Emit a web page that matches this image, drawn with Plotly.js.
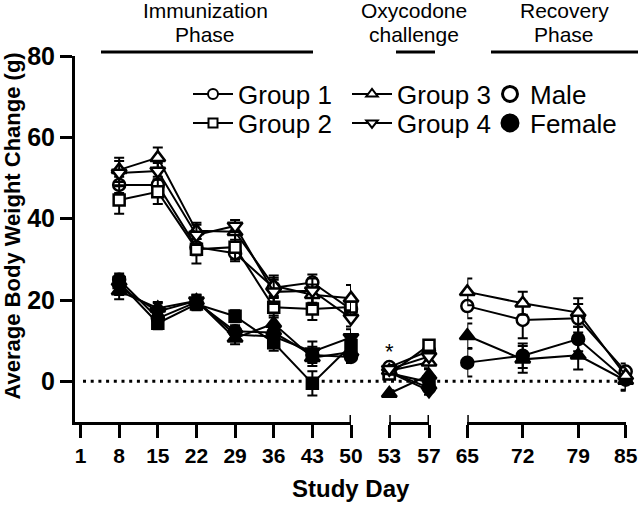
<!DOCTYPE html>
<html>
<head>
<meta charset="utf-8">
<script src="https://cdn.plot.ly/plotly-3.0.1.min.js"></script>
<style>html,body{margin:0;padding:0;background:#fff;}#chart{width:640px;height:505px;}</style>
</head>
<body>
<div id="chart"></div>
<script>
// ---------------- DATA ----------------
const daysImm = [8, 15, 22, 29, 36, 43, 50];
const daysOxy = [53, 57];
const daysRec = [65, 72, 79, 85];
const ticksImm = [1, 8, 15, 22, 29, 36, 43, 50];
const ticksOxy = [53, 57];
const ticksRec = [65, 72, 79, 85];
const yTicks = [0, 20, 40, 60, 80];

// Immunization phase (mean, SEM)
const g1M_imm = [48.3, 48.3, 33.0, 31.5, 23.0, 24.3, 17.7];
const g1M_imm_err = [2.0, 2.0, 2.0, 2.0, 2.5, 2.0, 1.5];
const g2M_imm = [44.6, 46.6, 32.5, 33.0, 18.2, 17.8, 18.3];
const g2M_imm_err = [3.4, 3.0, 3.5, 3.0, 2.5, 2.7, 2.0];
const g3M_imm = [52.0, 55.0, 37.0, 36.8, 23.5, 21.3, 20.4];
const g3M_imm_err = [3.0, 2.5, 2.0, 2.0, 2.5, 2.5, 3.3];
const g4M_imm = [51.2, 51.7, 36.0, 38.2, 22.0, 22.3, 15.5];
const g4M_imm_err = [3.0, 2.0, 2.5, 1.5, 3.0, 3.0, 2.0];
const g1F_imm = [25.0, 15.5, 19.5, 12.3, 12.0, 6.5, 6.0];
const g1F_imm_err = [1.5, 1.5, 1.5, 1.5, 2.0, 2.0, 1.5];
const g2F_imm = [24.3, 14.3, 19.0, 16.0, 9.5, -0.5, 8.8];
const g2F_imm_err = [1.5, 1.5, 1.5, 1.5, 2.0, 3.0, 2.0];
const g3F_imm = [22.2, 18.0, 19.8, 10.6, 14.2, 5.8, 7.2];
const g3F_imm_err = [2.0, 1.5, 1.5, 1.5, 2.0, 2.0, 2.0];
const g4F_imm = [23.2, 17.2, 19.8, 11.5, 11.0, 7.3, 10.8];
const g4F_imm_err = [2.0, 2.0, 1.5, 1.5, 2.0, 2.5, 2.0];

// Oxycodone challenge
const g1M_oxy = [3.5, 7.5];   const g1M_oxy_err = [1.0, 1.5];
const g2M_oxy = [1.8, 8.9];   const g2M_oxy_err = [1.0, 1.0];
const g3M_oxy = [2.6, 4.7];   const g3M_oxy_err = [1.0, 1.5];
const g4M_oxy = [3.0, 6.1];   const g4M_oxy_err = [1.0, 1.0];
const g1F_oxy = [2.4, -1.6];  const g1F_oxy_err = [1.0, 1.0];
const g2F_oxy = [2.0, -0.2];  const g2F_oxy_err = [1.0, 1.5];
const g3F_oxy = [-3.0, 1.5];  const g3F_oxy_err = [0.8, 1.5];
const g4F_oxy = [2.2, -2.3];  const g4F_oxy_err = [1.0, 1.0];

// Recovery phase (Groups 1 and 3 only)
const g1M_rec = [18.5, 15.1, 15.5, 2.4];  const g1M_rec_err = [3.0, 4.5, 3.5, 2.0];
const g3M_rec = [22.0, 19.2, 16.9, 1.4];  const g3M_rec_err = [3.3, 2.8, 3.5, 2.0];
const g1F_rec = [4.6, 6.3, 10.4, 0.4];    const g1F_rec_err = [3.4, 3.0, 3.0, 2.5];
const g3F_rec = [11.2, 5.4, 6.4, 0.2];    const g3F_rec_err = [3.0, 3.3, 3.5, 2.5];

const groupNames = ['Group 1', 'Group 2', 'Group 3', 'Group 4'];
const sexNames = ['Male', 'Female'];
const asteriskDay = 53;
const asteriskValue = 7.3;

// ---------------- LAYOUT HELPERS ----------------
const FONT = 'Liberation Sans, Arial, Helvetica, sans-serif';
const L = 75, W = 565, B = 422, H = 366;
function px(X) { return (X - L) / W; }
function py(Y) { return (B - Y) / H; }

const symbols = ['circle', 'square', 'triangle-up', 'triangle-down'];
const sizes = [12, 11, 13, 13];

function series(xs, ys, errs, xa, gi, filled) {
  return {
    type: 'scatter', mode: 'lines+markers',
    x: xs, y: ys, xaxis: xa, yaxis: 'y',
    line: { color: 'black', width: 2 },
    marker: { symbol: symbols[gi], size: sizes[gi], color: filled ? 'black' : 'white',
              line: { color: 'black', width: 2.5 } },
    error_y: { type: 'data', array: errs, visible: true, color: 'black', thickness: 2, width: 5 },
    cliponaxis: false, showlegend: false, hoverinfo: 'skip'
  };
}

const traces = [];
traces.push(series(daysImm, g1F_imm, g1F_imm_err, 'x', 0, true));
traces.push(series(daysImm, g2F_imm, g2F_imm_err, 'x', 1, true));
traces.push(series(daysImm, g3F_imm, g3F_imm_err, 'x', 2, true));
traces.push(series(daysImm, g4F_imm, g4F_imm_err, 'x', 3, true));
traces.push(series(daysImm, g1M_imm, g1M_imm_err, 'x', 0, false));
traces.push(series(daysImm, g2M_imm, g2M_imm_err, 'x', 1, false));
traces.push(series(daysImm, g3M_imm, g3M_imm_err, 'x', 2, false));
traces.push(series(daysImm, g4M_imm, g4M_imm_err, 'x', 3, false));

traces.push(series(daysOxy, g1F_oxy, g1F_oxy_err, 'x2', 0, true));
traces.push(series(daysOxy, g2F_oxy, g2F_oxy_err, 'x2', 1, true));
traces.push(series(daysOxy, g3F_oxy, g3F_oxy_err, 'x2', 2, true));
traces.push(series(daysOxy, g4F_oxy, g4F_oxy_err, 'x2', 3, true));
traces.push(series(daysOxy, g1M_oxy, g1M_oxy_err, 'x2', 0, false));
traces.push(series(daysOxy, g2M_oxy, g2M_oxy_err, 'x2', 1, false));
traces.push(series(daysOxy, g3M_oxy, g3M_oxy_err, 'x2', 2, false));
traces.push(series(daysOxy, g4M_oxy, g4M_oxy_err, 'x2', 3, false));

traces.push(series(daysRec, g1F_rec, g1F_rec_err, 'x3', 0, true));
traces.push(series(daysRec, g3F_rec, g3F_rec_err, 'x3', 2, true));
traces.push(series(daysRec, g1M_rec, g1M_rec_err, 'x3', 0, false));
traces.push(series(daysRec, g3M_rec, g3M_rec_err, 'x3', 2, false));

// legend entries (one legend box per entry, for exact placement)
function legendGroup(gi, leg) {
  return { type: 'scatter', mode: 'lines+markers', x: [null], y: [null], name: groupNames[gi],
    legend: leg, line: { color: 'black', width: 2 },
    marker: { symbol: symbols[gi], size: gi === 1 ? 9 : 10, color: 'white', line: { color: 'black', width: 2 } },
    hoverinfo: 'skip' };
}
function legendSex(si, leg) {
  return { type: 'scatter', mode: 'markers', x: [null], y: [null], name: sexNames[si], legend: leg,
    marker: { symbol: 'circle', size: si === 0 ? 15 : 17, color: si === 0 ? 'white' : 'black',
              line: { color: 'black', width: 3 } }, hoverinfo: 'skip' };
}
traces.push(legendGroup(0, 'legend'));
traces.push(legendGroup(1, 'legend2'));
traces.push(legendGroup(2, 'legend3'));
traces.push(legendGroup(3, 'legend4'));
traces.push(legendSex(0, 'legend5'));
traces.push(legendSex(1, 'legend6'));

const xCommon = {
  showline: true, linewidth: 3, linecolor: 'black', ticks: 'outside', ticklen: 13, tickwidth: 3,
  tickcolor: 'black', showgrid: false, zeroline: false, anchor: 'y', tickmode: 'array',
  tickfont: { family: FONT, size: 21, color: 'black', weight: 'bold' }, tickangle: 0, fixedrange: true
};

function legendAt(X, Y, iw) {
  return { x: px(X), y: py(Y), xanchor: 'left', yanchor: 'middle', bgcolor: 'rgba(0,0,0,0)',
    borderwidth: 0, itemwidth: iw, font: { family: FONT, size: 26, color: 'black' }, orientation: 'v' };
}

const annFont = { family: FONT, size: 21, color: 'black' };
function phaseText(text, X, Y) {
  return { text: text, xref: 'paper', yref: 'paper', x: px(X), y: py(Y), xanchor: 'center',
           yanchor: 'middle', showarrow: false, font: annFont };
}
function hline(X0, X1, Y) {
  return { type: 'line', xref: 'paper', yref: 'paper', x0: px(X0), x1: px(X1), y0: py(Y), y1: py(Y),
           line: { color: 'black', width: 3 } };
}
function cap(xref, xv) {
  return { type: 'line', xref: xref, yref: 'paper', x0: xv, x1: xv, y0: 0, y1: py(415),
           line: { color: 'black', width: 3 } };
}

const layout = {
  width: 640, height: 505,
  margin: { l: L, r: 640 - L - W, t: 56, b: 505 - 56 - H },
  paper_bgcolor: 'white', plot_bgcolor: 'white',
  font: { family: FONT, color: 'black' },
  xaxis: Object.assign({}, xCommon, { domain: [0, px(351)], range: [0, 50], tickvals: ticksImm }),
  xaxis2: Object.assign({}, xCommon, { domain: [px(389.3), px(429)], range: [53, 57], tickvals: ticksOxy }),
  xaxis3: Object.assign({}, xCommon, { domain: [px(467.3), px(625.7)], range: [65, 85], tickvals: ticksRec }),
  yaxis: {
    domain: [0, 1], range: [-10, 80], tickmode: 'array', tickvals: yTicks,
    showline: true, linewidth: 3, linecolor: 'black', ticks: 'outside', ticklen: 12, tickwidth: 3,
    tickcolor: 'black', showgrid: false, zeroline: false, fixedrange: true,
    tickfont: { family: FONT, size: 25, color: 'black', weight: 'bold' }
  },
  legend: legendAt(188, 94, 40),
  legend2: legendAt(188, 123, 40),
  legend3: legendAt(347, 94, 40),
  legend4: legendAt(347, 123, 40),
  legend5: legendAt(490, 94, 30),
  legend6: legendAt(490, 123, 30),
  shapes: [
    hline(101, 313, 52), hline(396, 435, 52), hline(491, 638, 52),
    cap('x', 50), cap('x2', 53), cap('x2', 57), cap('x3', 65),
    { type: 'line', xref: 'paper', yref: 'y', x0: px(83), x1: px(632), y0: 0, y1: 0,
      line: { color: 'black', width: 3, dash: '3px,4.7px' } }
  ],
  annotations: [
    phaseText('Immunization', 205, 11), phaseText('Phase', 205, 34.5),
    phaseText('Oxycodone', 414, 11), phaseText('challenge', 414, 34.5),
    phaseText('Recovery', 564, 11), phaseText('Phase', 564, 34.5),
    { text: 'Study Day', xref: 'paper', yref: 'paper', x: px(351), y: py(488), xanchor: 'center',
      yanchor: 'middle', showarrow: false, font: { family: FONT, size: 24, color: 'black', weight: 'bold' } },
    { text: 'Average Body Weight Change (g)', xref: 'paper', yref: 'paper', x: px(12), y: py(226.5),
      xanchor: 'center', yanchor: 'middle', textangle: -90, showarrow: false,
      font: { family: FONT, size: 22, color: 'black', weight: 'bold' } },
    { text: '*', xref: 'x2', yref: 'y', x: asteriskDay, y: asteriskValue, showarrow: false,
      xanchor: 'center', yanchor: 'middle', font: { family: FONT, size: 22, color: 'black' } }
  ]
};

Plotly.newPlot('chart', traces, layout, { staticPlot: true, displayModeBar: false });
</script>
</body>
</html>
